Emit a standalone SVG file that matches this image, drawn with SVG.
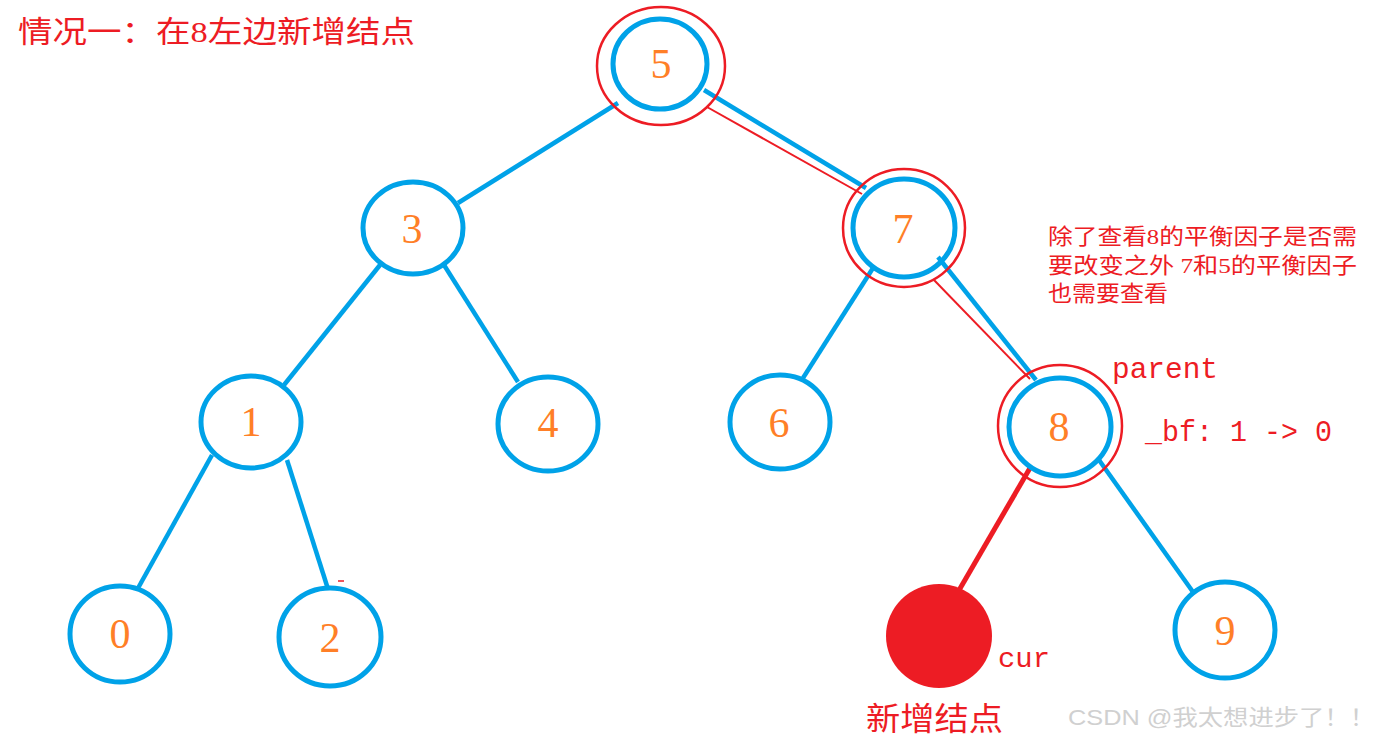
<svg xmlns="http://www.w3.org/2000/svg" width="1386" height="740" viewBox="0 0 1386 740">
<style>
.n{fill:none;stroke:#00a2e8;stroke-width:5}
.r{fill:none;stroke:#ed1c24;stroke-width:2.5}
.e{stroke:#00a2e8;stroke-width:4.5;fill:none}
.er{stroke:#ed1c24;stroke-width:2;fill:none}
.num{font-family:"Liberation Serif",serif;font-size:42px;fill:#ff7f27;text-anchor:middle}
.t{font-family:"Liberation Serif","Noto Sans CJK SC",serif;fill:#ed1c24}
.m{font-family:"Liberation Mono","Noto Sans CJK SC",monospace;fill:#ed1c24}
</style>
<rect width="1386" height="740" fill="#fff"/>
<g id="connectors">
<line class="e" x1="618" y1="103" x2="458" y2="203"/>
<line class="e" x1="704" y1="90" x2="866" y2="188"/>
<line class="er" x1="707" y1="107" x2="862" y2="194"/>
<line class="e" x1="873" y1="268" x2="803" y2="378"/>
<line class="e" x1="938" y1="257" x2="1036" y2="380"/>
<line class="er" x1="934" y1="280" x2="1030" y2="379"/>
<line class="e" x1="380" y1="265" x2="284" y2="385"/>
<line class="e" x1="444" y1="265" x2="518" y2="382"/>
<line class="e" x1="212" y1="455" x2="137" y2="590"/>
<line class="e" x1="287" y1="460" x2="328" y2="589"/>
<line stroke="#ed1c24" stroke-width="5" x1="1030" y1="468" x2="958" y2="592"/>
<line class="e" x1="1099" y1="460" x2="1193" y2="592"/>
<line stroke="#ed1c24" stroke-width="1.5" x1="338" y1="581" x2="344" y2="581"/>
</g>
<g id="node5"><ellipse class="r" cx="661" cy="66" rx="64" ry="59"/><ellipse class="n" cx="660" cy="64" rx="47" ry="45"/><text class="num" x="661" y="78">5</text></g>
<g id="node3"><ellipse class="n" cx="413" cy="228" rx="50" ry="46"/><text class="num" x="412" y="243">3</text></g>
<g id="node7"><ellipse class="r" cx="904" cy="228" rx="61" ry="59"/><ellipse class="n" cx="904" cy="228" rx="51" ry="49"/><text class="num" x="903" y="243">7</text></g>
<g id="node1"><ellipse class="n" cx="251" cy="422" rx="50" ry="46"/><text class="num" x="251" y="436">1</text></g>
<g id="node4"><ellipse class="n" cx="548" cy="424" rx="50" ry="47"/><text class="num" x="548" y="437">4</text></g>
<g id="node6"><ellipse class="n" cx="780" cy="422" rx="50" ry="47"/><text class="num" x="779" y="437">6</text></g>
<g id="node8"><ellipse class="r" cx="1060" cy="426" rx="62" ry="61"/><ellipse class="n" cx="1060" cy="427" rx="51" ry="49"/><text class="num" x="1059" y="441">8</text></g>
<g id="node0"><ellipse class="n" cx="120" cy="634" rx="50" ry="48"/><text class="num" x="120" y="648">0</text></g>
<g id="node2"><ellipse class="n" cx="330" cy="637" rx="51" ry="49"/><text class="num" x="330" y="652">2</text></g>
<g id="node9"><ellipse class="n" cx="1225" cy="630" rx="50" ry="48"/><text class="num" x="1225" y="645">9</text></g>
<g id="nodecur"><ellipse cx="939" cy="636" rx="53" ry="52" fill="#ed1c24"/></g>
<g id="labels">
<text class="t" x="18" y="42" font-size="30" textLength="397" lengthAdjust="spacingAndGlyphs">情况一：在8左边新增结点</text>
<text class="t" x="1048" y="244" font-size="22" textLength="309" lengthAdjust="spacingAndGlyphs">除了查看8的平衡因子是否需</text>
<text class="t" x="1048" y="273" font-size="22" textLength="309" lengthAdjust="spacingAndGlyphs">要改变之外 7和5的平衡因子</text>
<text class="t" x="1048" y="301" font-size="22" textLength="120" lengthAdjust="spacingAndGlyphs">也需要查看</text>
<text class="m" x="1112" y="378" font-size="29" textLength="106" lengthAdjust="spacingAndGlyphs">parent</text>
<text class="m" x="1145" y="441" font-size="29" textLength="187" lengthAdjust="spacingAndGlyphs">_bf: 1 -&gt; 0</text>
<text class="m" x="998" y="667" font-size="28" textLength="52" lengthAdjust="spacingAndGlyphs">cur</text>
<text class="t" x="866" y="730" font-size="32" textLength="137" lengthAdjust="spacingAndGlyphs">新增结点</text>
<text x="1068" y="725" font-size="22" fill="#d0d0d0" font-family="'Liberation Sans','Noto Sans CJK SC',sans-serif" textLength="307" lengthAdjust="spacingAndGlyphs">CSDN @我太想进步了！！</text>
</g>
</svg>
